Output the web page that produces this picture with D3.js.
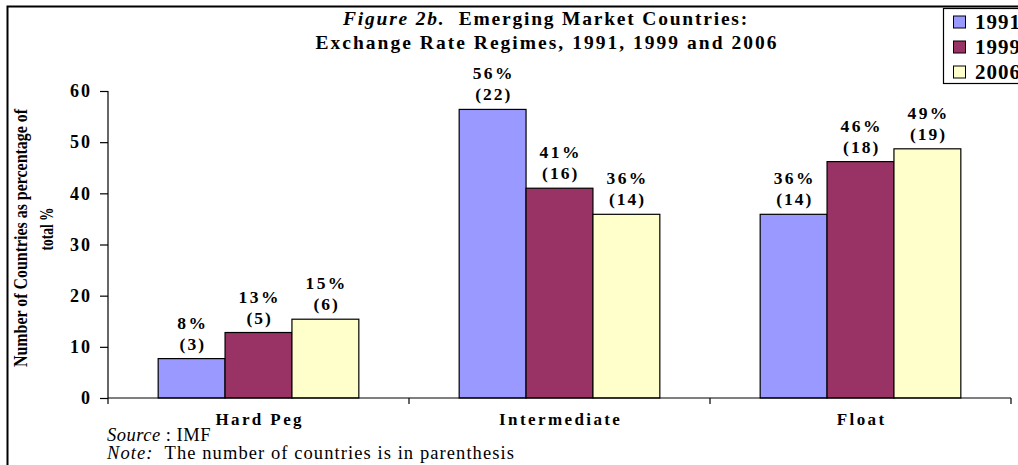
<!DOCTYPE html>
<html><head><meta charset="utf-8">
<script src="https://cdn.jsdelivr.net/npm/d3@7"></script>
<style>
html,body{margin:0;padding:0;background:#fff;overflow:hidden}
</style></head>
<body>
<svg id="c" width="1018" height="465"></svg>
<script>
const categories = ["Hard Peg", "Intermediate", "Float"];
const years = ["1991", "1999", "2006"];
const values1991 = [7.7, 56.4, 35.9];
const values1999 = [12.8, 41.0, 46.2];
const values2006 = [15.4, 35.9, 48.7];
const pctLabels1991 = ["8%", "56%", "36%"];
const pctLabels1999 = ["13%", "41%", "46%"];
const pctLabels2006 = ["15%", "36%", "49%"];
const counts1991 = [3, 22, 14];
const counts1999 = [5, 16, 18];
const counts2006 = [6, 14, 19];
const yTicks = [0, 10, 20, 30, 40, 50, 60];
const colors = ["#9999FF", "#993366", "#FFFFCC"];

const series = [
  {year: years[0], values: values1991, pct: pctLabels1991, counts: counts1991},
  {year: years[1], values: values1999, pct: pctLabels1999, counts: counts1999},
  {year: years[2], values: values2006, pct: pctLabels2006, counts: counts2006}
];

const FONT = "Liberation Serif";
const svg = d3.select("#c").attr("font-family", FONT);
const mLeft = 108, mRight = 1011, mTop = 91, mBottom = 398;

function fitWidth(sel, target) {
  const node = sel.node();
  const n = node.textContent.length;
  const w = node.getComputedTextLength();
  sel.attr("letter-spacing", Math.max(0, (target - w) / n));
  return sel;
}

// frame
svg.append("path").attr("d", "M7.5,465 L7.5,6.5 L1018,6.5").attr("fill", "none").attr("stroke", "#000").attr("stroke-width", 2);

const x0 = d3.scaleBand().domain(categories).range([mLeft, mRight]).paddingInner(0).paddingOuter(0);
const x1 = d3.scaleBand().domain(years).range([0, x0.bandwidth()]).paddingInner(0).paddingOuter(0.75);
const y = d3.scaleLinear().domain([0, 60]).range([mBottom, mTop]);

// bars
const g = svg.append("g");
categories.forEach((cat, ci) => {
  series.forEach((s, si) => {
    const bx = x0(cat) + x1(s.year);
    g.append("rect")
      .attr("x", bx).attr("y", y(s.values[ci]))
      .attr("width", x1.bandwidth()).attr("height", y(0) - y(s.values[ci]))
      .attr("fill", colors[si]).attr("stroke", "#000").attr("stroke-width", 1.2);
    const cx = bx + x1.bandwidth() / 2;
    const ty = y(s.values[ci]);
    g.append("text").attr("x", cx + 1.2).attr("y", ty - 30).attr("text-anchor", "middle").attr("font-family", FONT)
      .attr("font-size", 17.5).attr("font-weight", "bold").attr("letter-spacing", 2.4).text(s.pct[ci]);
    g.append("text").attr("x", cx + 1.2).attr("y", ty - 9).attr("text-anchor", "middle").attr("font-family", FONT)
      .attr("font-size", 17.5).attr("font-weight", "bold").attr("letter-spacing", 2).text("(" + s.counts[ci] + ")");
  });
});

// y axis
const yAxis = svg.append("g").attr("transform", `translate(${mLeft},0)`)
  .call(d3.axisLeft(y).tickValues(yTicks).tickSize(8).tickPadding(8).tickFormat(d3.format("d")));
yAxis.selectAll("path,line").attr("stroke", "#000").attr("stroke-width", 1.2);
yAxis.select(".domain").attr("d", `M0,${mTop}H0V${mBottom}`);
yAxis.selectAll("text").attr("font-size", 18).attr("font-weight", "bold")
  .attr("font-family", FONT).attr("fill", "#000").attr("letter-spacing", 2);

// x axis
const xAxis = svg.append("g").attr("transform", `translate(0,${mBottom})`);
xAxis.append("line").attr("x1", mLeft).attr("x2", mRight).attr("y1", 0).attr("y2", 0).attr("stroke", "#000").attr("stroke-width", 1.2);
const bounds = [mLeft].concat(categories.map(c => x0(c) + x0.bandwidth()));
bounds.forEach(b => xAxis.append("line").attr("x1", b).attr("x2", b).attr("y1", 0).attr("y2", 6).attr("stroke", "#000").attr("stroke-width", 1.2));
categories.forEach(c => {
  xAxis.append("text").attr("x", x0(c) + x0.bandwidth() / 2 + 1.2).attr("y", 27).attr("text-anchor", "middle").attr("font-family", FONT)
    .attr("font-size", 17).attr("font-weight", "bold").attr("letter-spacing", 2.4).text(c);
});

// y title
const yt = svg.append("g");
yt.append("text").attr("transform", "translate(27,238) rotate(-90)").attr("text-anchor", "middle").attr("font-family", FONT)
  .attr("font-size", 18.5).attr("font-weight", "bold").attr("textLength", 258).attr("lengthAdjust", "spacingAndGlyphs")
  .text("Number of Countries as percentage of");
yt.append("text").attr("transform", "translate(53,229) rotate(-90)").attr("text-anchor", "middle").attr("font-family", FONT)
  .attr("font-size", 18.5).attr("font-weight", "bold").attr("textLength", 43).attr("lengthAdjust", "spacingAndGlyphs")
  .text("total %");

// title
const t1 = svg.append("text").attr("x", 546).attr("y", 25).attr("text-anchor", "middle").attr("font-family", FONT)
  .attr("font-size", 19.5).attr("font-weight", "bold");
t1.append("tspan").attr("font-style", "italic").text("Figure 2b.");
t1.append("tspan").text("\u00a0 Emerging Market Countries:");
fitWidth(t1, 406);
const t2 = svg.append("text").attr("x", 547).attr("y", 49).attr("text-anchor", "middle").attr("font-family", FONT)
  .attr("font-size", 19.5).attr("font-weight", "bold")
  .text("Exchange Rate Regimes, 1991, 1999 and 2006");
fitWidth(t2, 463);

// notes
const n1 = svg.append("text").attr("x", 107).attr("y", 441).attr("font-size", 18.5).attr("font-family", FONT);
n1.append("tspan").attr("font-style", "italic").text("Source");
n1.append("tspan").text(" : IMF");
fitWidth(n1, 104);
const n2 = svg.append("text").attr("x", 107).attr("y", 459).attr("font-size", 18.5).attr("font-family", FONT);
n2.append("tspan").attr("font-style", "italic").text("Note:");
n2.append("tspan").text("\u00a0 The number of countries is in parenthesis");
fitWidth(n2, 408);

// legend
const lg = svg.append("g");
lg.append("rect").attr("x", 943.5).attr("y", 8.5).attr("width", 80).attr("height", 75)
  .attr("fill", "#fff").attr("stroke", "#000").attr("stroke-width", 1.2);
years.forEach((yr, i) => {
  const yy = 22 + i * 25;
  lg.append("rect").attr("x", 953.5).attr("y", yy - 6).attr("width", 12).attr("height", 12)
    .attr("fill", colors[i]).attr("stroke", "#000").attr("stroke-width", 1);
  lg.append("text").attr("x", 975).attr("y", yy + 7).attr("font-size", 21).attr("font-weight", "bold").attr("font-family", FONT)
    .attr("letter-spacing", 1).text(yr);
});
</script>
</body></html>
